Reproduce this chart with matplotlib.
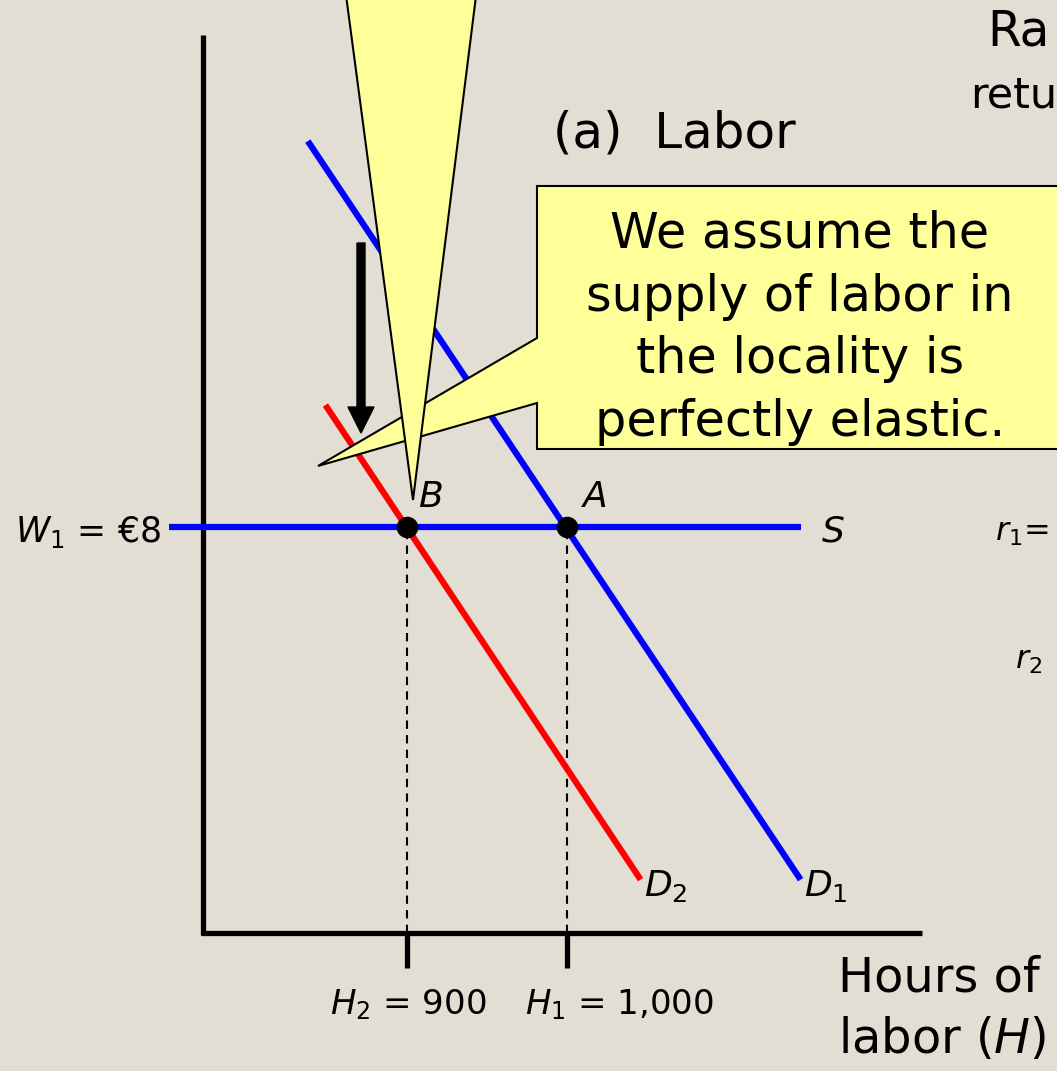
import matplotlib
matplotlib.use('Agg')
import matplotlib.pyplot as plt
from matplotlib.patches import Polygon, FancyArrow
from matplotlib.transforms import Affine2D

plt.rcParams['font.family'] = ['DejaVu Sans']
plt.rcParams['mathtext.fontset'] = 'dejavusans'

FIG_W, FIG_H = 1057, 1071

# values (hours of labor, wage in euro)
wage_1 = 8
hours_b = 900
hours_a = 1000
s_hours = [751, 1146]
s_wage = [8, 8]
d1_hours = [838, 1146]
d1_wage = [15.6, 1.05]
d2_hours = [849, 1046]
d2_wage = [10.4, 1.05]
eq_hours = [900, 1000]
eq_names = ['B', 'A']
tick_labels = [r'$H_2$ = 900', r'$H_1$ = 1,000']

bg = '#e3ded3'
yellow = '#ffff99'

fig = plt.figure(figsize=(FIG_W/100, FIG_H/100), dpi=100, facecolor=bg)
ax = fig.add_axes([0, 0, 1, 1])
ax.set_facecolor(bg)
ax.axis('off')
ax.set_xlim(645.6, 1306.25)
ax.set_ylim(-2.72, 18.38)

# pixel coords (top-left origin) for the callouts and free text
px = Affine2D().scale(1/FIG_W, -1/FIG_H).translate(0, 1) + fig.transFigure

# axes
ax.plot([772.5, 772.5], [-0.05, 17.7], color='k', lw=3.8, solid_capstyle='butt', zorder=2)
ax.plot([771, 1222], [0, 0], color='k', lw=3.8, solid_capstyle='butt', zorder=2)

# ticks + dashed guides
for h in eq_hours:
    ax.plot([h, h], [0, -0.69], color='k', lw=3.8, solid_capstyle='butt', zorder=2)
    ax.plot([h, h], [0, wage_1], color='k', lw=1.5, ls=(0, (4, 3)), zorder=2)

# curves
ax.plot(s_hours, s_wage, color='#0000ff', lw=4.5, solid_capstyle='butt', zorder=3)
ax.plot(d1_hours, d1_wage, color='#0000ff', lw=4.5, solid_capstyle='butt', zorder=3)
ax.plot(d2_hours, d2_wage, color='#ff0000', lw=4.5, solid_capstyle='butt', zorder=3)
ax.plot(eq_hours, [wage_1]*2, 'o', color='k', ms=14.5, zorder=4)

fs = 26
ax.text(418, 497, eq_names[0], transform=px, fontsize=fs, style='italic', va='center')
ax.text(583, 497, eq_names[1], transform=px, fontsize=fs, style='italic', va='center')
ax.text(822, 532, 'S', transform=px, fontsize=fs, style='italic', va='center')
ax.text(644, 886, r'$D_2$', transform=px, fontsize=fs, va='center')
ax.text(804, 886, r'$D_1$', transform=px, fontsize=fs, va='center')
ax.text(161, 532, r'$W_1$ = €8', transform=px, fontsize=25, ha='right', va='center')
ax.text(330, 1005, tick_labels[0], transform=px, fontsize=24.5, va='center')
ax.text(525, 1005, tick_labels[1], transform=px, fontsize=24.5, va='center')
ax.text(838, 1009, 'Hours of\nlabor ($H$)', transform=px, fontsize=34.5, va='center',
        linespacing=1.4)
ax.text(553, 133, '(a)  Labor', transform=px, fontsize=36, va='center')
ax.text(987, 32, 'Ra', transform=px, fontsize=35, va='center')
ax.text(970, 95, 'retu', transform=px, fontsize=31, va='center')
ax.text(995, 532, r'$r_1$=', transform=px, fontsize=23, va='center')
ax.text(1015, 660, r'$r_2$', transform=px, fontsize=23, va='center')

# arrow showing the shift of demand
ax.add_patch(FancyArrow(361, 243, 0, 190, width=8, head_width=26, head_length=26,
                        length_includes_head=True, color='k', transform=px, zorder=5))

# box callout
box = Polygon([(537, 186), (1090, 186), (1090, 449), (537, 449), (537, 403),
               (318, 466), (537, 338)], closed=True, transform=px,
              facecolor=yellow, edgecolor='k', lw=1.5, zorder=6)
ax.add_patch(box)
ax.text(800, 328, 'We assume the\nsupply of labor in\nthe locality is\nperfectly elastic.',
        transform=px, fontsize=35.5, ha='center', va='center', ma='center',
        linespacing=1.39, zorder=7)

# tall wedge callout from above
wedge = Polygon([(344, -20), (478, -20), (413, 500)], closed=True, transform=px,
                facecolor=yellow, edgecolor='k', lw=1.5, zorder=8)
ax.add_patch(wedge)

fig.savefig('out.png', dpi=100, facecolor=bg)
